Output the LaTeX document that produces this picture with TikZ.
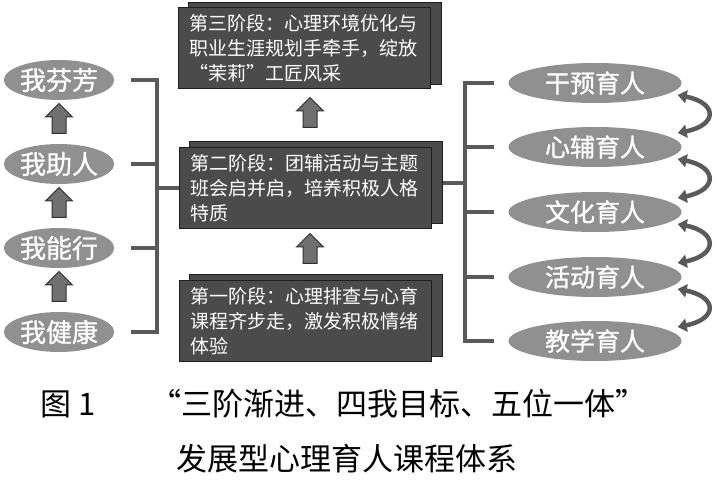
\documentclass[tikz,border=0pt]{standalone}
\usepackage{fontspec}
\setmainfont{Noto Sans CJK SC}
\newfontfamily\bolder{Noto Sans CJK SC}[FakeBold=1]
\usetikzlibrary{shapes.geometric,shapes.arrows,backgrounds,arrows.meta}
\definecolor{goalfill}{HTML}{909090}
\definecolor{stagefill}{HTML}{4B4B4B}
\definecolor{stageline}{HTML}{1E1E1E}
\definecolor{barcol}{HTML}{5A5A5A}
\definecolor{liftfill}{HTML}{707070}
\definecolor{liftline}{HTML}{303030}
\begin{document}
\begin{tikzpicture}[x=1pt,y=-1pt,
    goal/.style={ellipse,fill=goalfill,text=white,inner sep=0pt,
      minimum width=102pt,minimum height=40pt,font=\bolder\fontsize{26}{26}\selectfont},
    way/.style={goal,minimum width=173pt,font=\bolder\fontsize{25}{25}\selectfont},
    stage/.style={draw=stageline,fill=stagefill,line width=1pt,text=white,
      text width=229pt,align=left,inner xsep=11.5pt,inner ysep=5pt,minimum height=81pt,
      font=\fontsize{19}{25}\selectfont},
    back/.style={draw=stageline,fill=stagefill,line width=1pt},
    lift/.style={single arrow,shape border rotate=90,draw=liftline,fill=liftfill,line width=1pt,
      inner xsep=6.5pt,inner ysep=0pt,minimum height=30pt,single arrow head extend=6.5pt},
    bar/.style={draw=barcol,line width=4pt},
    swing/.style={draw=barcol,line width=4.5pt,
      {Triangle[length=9pt,width=13pt]}-{Triangle[length=9pt,width=13pt]}}]
  \useasboundingbox (0,0) rectangle (724,481);
  \draw
    (59,80) node[goal] (g4){我芬芳}
    (59,164) node[goal] (g3){我助人}
    (59,248) node[goal] (g2){我能行}
    (59,332) node[goal] (g1){我健康};
  \draw
    (595,83) node[way] (w1){干预育人}
    (595,147) node[way] (w2){心辅育人}
    (595,212) node[way] (w3){文化育人}
    (595,277) node[way] (w4){活动育人}
    (595,341) node[way] (w5){教学育人};
  \node[stage] (s3) at (304,48.5) {第三阶段：心理环境优化与\\职业生涯规划手牵手，绽放\\“茉莉”工匠风采};
  \node[stage] (s2) at (305,188) {第二阶段：团辅活动与主题\\班会启并启，培养积极人格\\特质};
  \node[stage] (s1) at (305,321) {第一阶段：心理排查与心育\\课程齐步走，激发积极情绪\\体验};
  % second sheet behind each stage
  \begin{scope}[on background layer]
    \draw[back] ([shift={(11,-5)}]s3.south west) rectangle ([shift={(11,-5)}]s3.north east);
    \draw[back] ([shift={(11,-5)}]s2.south west) rectangle ([shift={(11,-5)}]s2.north east);
    \draw[back] ([shift={(11,-5)}]s1.south west) rectangle ([shift={(11,-5)}]s1.north east);
  \end{scope}
  % rising arrows
  \node[lift] (a1) at (59,122) {};
  \node[lift] (a2) at (59,206) {};
  \node[lift] (a3) at (59,290) {};
  \node[lift] (a4) at (310,116) {};
  \node[lift] (a5) at (310,252) {};
  % brackets
  \coordinate (lj) at (157,188);
  \coordinate (rj) at (465,183);
  \begin{scope}[bar]
    \draw ([xshift=17pt]g4.east) -| (lj);
    \draw ([xshift=17pt]g3.east) -| (lj);
    \draw ([xshift=17pt]g2.east) -| (lj);
    \draw ([xshift=17pt]g1.east) -| (lj);
    \draw (lj) -- (s2.west);
    \draw ([xshift=-14pt]w1.west) -| (rj);
    \draw ([xshift=-14pt]w2.west) -| (rj);
    \draw ([xshift=-14pt]w3.west) -| (rj);
    \draw ([xshift=-14pt]w4.west) -| (rj);
    \draw ([xshift=-14pt]w5.west) -| (rj);
    \draw (rj) -- ([shift={(11,-5)}]s2.east);
  \end{scope}
  % swaps
  \draw[swing] ([xshift=-4pt,yshift=-12pt]w1.east) .. controls +(40,8) and +(40,-8) .. ([xshift=-4pt,yshift=14pt]w2.east);
  \draw[swing] ([xshift=-4pt,yshift=-12pt]w2.east) .. controls +(40,8) and +(40,-8) .. ([xshift=-4pt,yshift=14pt]w3.east);
  \draw[swing] ([xshift=-4pt,yshift=-12pt]w3.east) .. controls +(40,8) and +(40,-8) .. ([xshift=-4pt,yshift=14pt]w4.east);
  \draw[swing] ([xshift=-4pt,yshift=-12pt]w4.east) .. controls +(40,8) and +(40,-8) .. ([xshift=-4pt,yshift=14pt]w5.east);
  % caption
  \node[font=\fontsize{31}{31}\selectfont,anchor=west,inner sep=0pt] (c1) at (40,404) {图 1\hspace{55pt}“三阶渐进、四我目标、五位一体”};
  \node[font=\fontsize{31}{31}\selectfont,anchor=west,inner sep=0pt] (c2) at (176,459) {发展型心理育人课程体系};
\end{tikzpicture}
\end{document}
